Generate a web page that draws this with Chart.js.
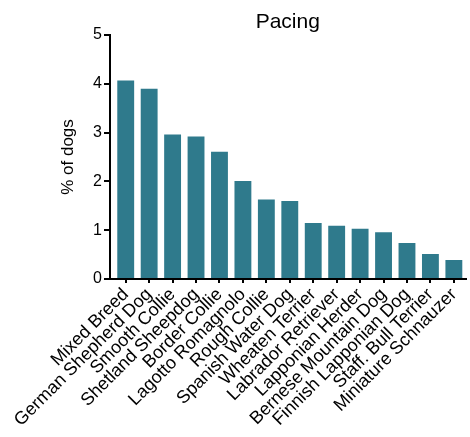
<!DOCTYPE html>
<html><head><meta charset="utf-8">
<script src="https://cdn.jsdelivr.net/npm/chart.js@4"></script>
<style>html,body{margin:0;padding:0;background:#fff}#wrap{width:470px;height:437px}</style>
</head><body><div id="wrap"><canvas id="c" width="470" height="437"></canvas></div>
<script>
const chartTitle = 'Pacing';
const yAxisTitle = '% of dogs';
const categories = ["Mixed Breed","German Shepherd Dog","Smooth Collie","Shetland Sheepdog","Border Collie","Lagotto Romagnolo","Rough Collie","Spanish Water Dog","Wheaten Terrier","Labrador Retriever","Lapponian Herder","Bernese Mountain Dog","Finnish Lapponian Dog","Staff. Bull Terrier","Miniature Schnauzer"];
const pacingValues = [4.07,3.90,2.96,2.92,2.61,2.01,1.63,1.60,1.15,1.09,1.03,0.96,0.74,0.51,0.39];
const yTicks = [0,1,2,3,4,5];

const FONT = "'Liberation Sans', Arial, sans-serif";

// Title centred over the plot area (as in the reference) and a small left gap before the first category
const layoutTweaks = {
  id: 'layoutTweaks',
  afterLayout(chart) {
    const x = chart.scales.x;
    const gap = 4;
    x._startPixel += gap;
    x._length -= gap;
  },
  afterDraw(chart) {
    const ctx = chart.ctx, a = chart.chartArea;
    ctx.save();
    ctx.fillStyle = '#000';
    ctx.font = `21px ${FONT}`;
    ctx.textAlign = 'center';
    ctx.textBaseline = 'alphabetic';
    ctx.fillText(chartTitle, (a.left + a.right) / 2, a.top - 7);
    ctx.restore();
  }
};

new Chart(document.getElementById('c'), {
  type: 'bar',
  data: { labels: categories, datasets: [{ data: pacingValues, backgroundColor: '#2f7a8c', categoryPercentage: 0.72, barPercentage: 1 }] },
  plugins: [layoutTweaks],
  options: {
    responsive: false, animation: false, devicePixelRatio: 1,
    layout: { padding: { top: 35, right: 0, left: 58, bottom: 0 } },
    plugins: { legend: { display: false }, tooltip: { enabled: false }, title: { display: false } },
    scales: {
      x: {
        grid: { display: true, drawOnChartArea: false, drawTicks: true, tickLength: 4, offset: false, color: '#000', lineWidth: 2 },
        border: { display: true, color: '#000', width: 2 },
        ticks: { color: '#000', font: { family: FONT, size: 18 }, maxRotation: 45, minRotation: 45, autoSkip: false, padding: 1 },
        afterFit: s => { s.height = 158; }
      },
      y: {
        min: 0, max: 5,
        afterBuildTicks: s => { s.ticks = yTicks.map(v => ({ value: v })); },
        grid: { display: true, drawOnChartArea: false, drawTicks: true, tickLength: 6, color: '#000', lineWidth: 2 },
        border: { display: true, color: '#000', width: 2 },
        ticks: { color: '#000', font: { family: FONT, size: 16 }, padding: 2 },
        title: { display: true, text: yAxisTitle, color: '#000', font: { family: FONT, size: 17 }, padding: { top: 0, bottom: 0 } },
        afterFit: s => { s.width = 52; }
      }
    }
  }
});
</script></body></html>
